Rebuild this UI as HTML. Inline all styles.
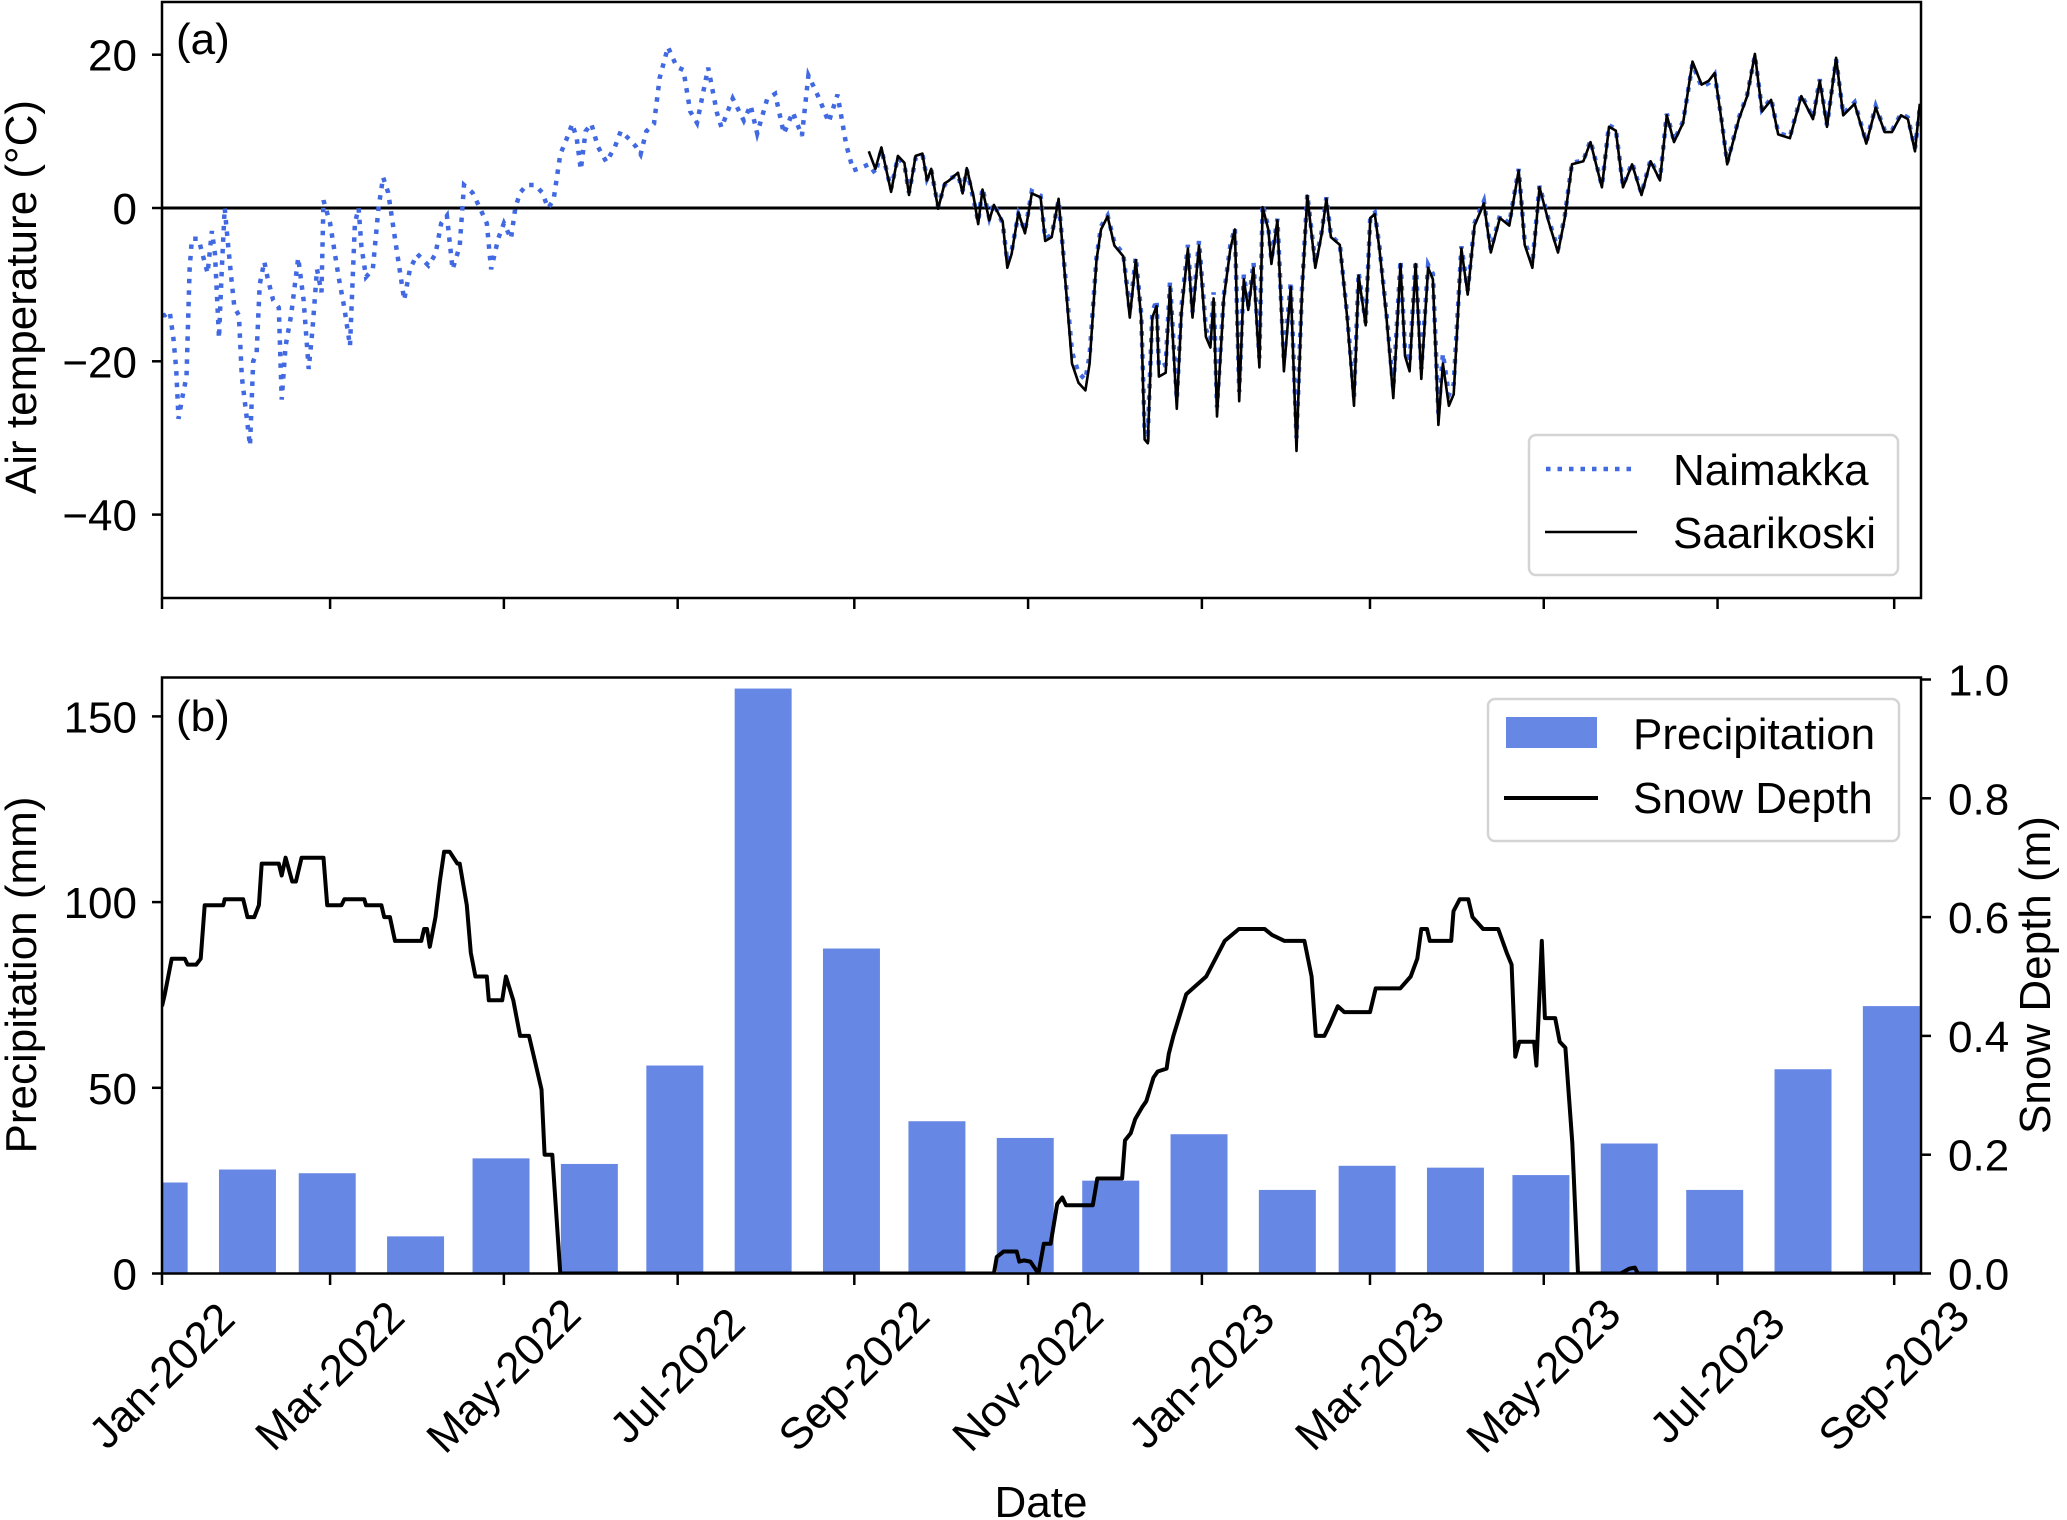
<!DOCTYPE html>
<html><head><meta charset="utf-8"><style>
html,body{margin:0;padding:0;background:#fff}
svg{display:block;font-family:"Liberation Sans",Arial,sans-serif}
</style></head><body>
<svg id="chart" width="2067" height="1520" viewBox="0 0 2067 1520" xmlns="http://www.w3.org/2000/svg">
<defs>
<clipPath id="clipA"><rect x="162" y="2" width="1759" height="596"/></clipPath>
<clipPath id="clipB"><rect x="162" y="678" width="1759" height="596"/></clipPath>
</defs>
<g id="gA"></g>
<g id="gB"></g>
</svg>
<script>
// ---- data ----
const xTickLabels = ["Jan-2022","Mar-2022","May-2022","Jul-2022","Sep-2022","Nov-2022","Jan-2023","Mar-2023","May-2023","Jul-2023","Sep-2023"];
const xTickDays = [0,59,120,181,243,304,365,424,485,546,608];
const tempTicks = [20,0,-20,-40];
const precipTicks = [0,50,100,150];
const snowTicks = [0.0,0.2,0.4,0.6,0.8,1.0];
// Naimakka air temperature (day offset from 2022-01-01, °C)
const naimDays = [0,1,2.7,4,5,5.8,7,8.6,9.7,10.5,12.8,14.9,16,17.5,18.6,20,21,22,23,24.3,25.4,27,28,29.3,30.9,32,33.2,34.3,35.9,37,39,41,42,43.4,45.3,47.8,49.7,51.5,52.8,54.4,56,56.7,59,62,64,66,67.7,69,70,71.6,74,76,77.6,79.4,81.8,83.4,85,87,89.6,93.5,96,98,100,102,104.5,106,109,111.6,114,115.5,118,120,122.5,124,125.7,128,131,133.5,135.5,137.4,139.8,142,144,145.6,147,148.7,150.7,153,156,159,161,164,166.4,168,170,172.7,174.7,177.6,180.7,183,185.4,187.8,191.7,194.8,196.4,200.3,204.2,206.6,208.9,212.4,215.2,218.3,221.4,224.6,226.9,230.8,234,237.1,240.2,242.6,245,248.1,250.4,252.5,255.9,258.3,260.6,262.2,264.5,266.9,268.5,270,272.4,274.7,276.3,279.4,281,282.5,284.9,286.5,288,290.4,292,295.1,296.7,298.2,300.6,302.9,305.3,308.4,310,312.3,314.7,317.8,319.4,321.7,324.1,325.6,328,329.6,331.9,334.3,337.4,339.7,341.8,343.7,344.9,346,347.6,349.1,349.9,352.3,353.8,356.2,357.8,360.1,361.7,364,366.4,368,369.1,370.3,372.7,375,376.6,378.1,379.7,381.3,383.1,385.2,386.3,388.3,389.4,391.5,393.8,396.2,398.2,400.1,402,404.8,407.1,408.7,410.3,413.4,416,418.4,420,422.5,424.1,425.7,427.3,429.8,432.2,434.7,436.3,437.9,440,442,444.4,446.1,448,449.6,451.7,453.4,456.1,458.3,460.7,464,466.4,469.6,472.9,476.2,478.3,481,483.5,486.7,490,492.4,494.9,498.9,501.4,505.4,507.9,510.3,512.8,516,519.3,522.5,525.8,528.2,530.7,533.9,537.2,540.4,542.9,545,547.3,549.4,553.5,556.4,559.1,561.6,564.8,567.3,571.4,575.4,579.5,581.9,584.4,587.6,590.1,594.1,598.2,601.5,604.7,607.2,610.4,612.8,615.3,617];
const naimVals = [-14,-14,-13.5,-17,-21,-27.5,-25,-22,-8,-4,-4,-7,-8.5,-3,-6,-17,-8,0,-4,-9,-13,-14,-22,-26,-31,-20,-19,-10,-7,-9,-12,-13,-25,-18,-14,-6.5,-12,-21,-16,-8,-11,1,-2,-9,-13,-18,-2,0,-5,-9,-8,0,4,2,-4,-8,-12,-8,-6,-7.5,-6,-2,-1,-8,-5,3,2,0,-2,-8,-4,-2,-4,0,2,3,3,2,0,1,7,9,11,9,5,10,11,8,6,8,10,9,8,7,10,11,17,21,18.4,18,12.6,11.1,18.3,12.4,10.5,14.3,11.4,13.4,9.7,14.2,14.9,9.7,12.5,9.4,17.3,14.2,11.2,14.8,8.2,4.9,5.2,5.7,4.5,7.6,2.5,6.6,5.6,2.0,6.5,7.0,3.8,5.0,0.2,3.0,3.8,4.3,2.2,5.0,1.0,-1.8,2.6,-1.3,0.6,-2.0,-7.0,-5.6,-0.8,-3.0,2.2,1.6,-4.0,-3.5,1.0,-12.0,-18.8,-21.5,-22.4,-19.2,-6.5,-2.4,-1.0,-4.5,-6.0,-13.5,-6.4,-13.8,-28.7,-29.5,-13.6,-12.0,-20.8,-20.4,-9.6,-25.0,-13.0,-4.8,-13.6,-4.3,-15.8,-17.2,-11.0,-26.0,-11.4,-4.8,-2.6,-24.0,-8.7,-12.8,-7.1,-19.6,0.5,-2.5,-6.8,-1.4,-20.0,-9.6,-30.0,-10.8,1.8,-7.2,-3.0,1.4,-3.6,-4.7,-14.0,-24.6,-8.4,-15.0,-1.0,-0.6,-5.0,-13.8,-23.6,-6.8,-18.6,-20.2,-6.8,-21.0,-7.4,-8.6,-26.8,-19.0,-24.4,-23.0,-5.0,-10.8,-2.0,0.9,-5.4,-1.0,-2.0,5.1,-4.4,-7.2,2.9,-1.5,-5.4,-1.0,5.9,6.2,8.8,2.9,10.8,10.3,2.9,5.9,1.9,6.3,3.8,12.3,8.8,11.3,18.8,15.8,16.3,17.4,11.8,5.9,11.8,14.8,19.9,12.8,14.3,9.8,9.3,14.8,11.8,16.8,10.8,19.4,12.3,13.8,8.6,13.3,10.1,10.1,12.3,11.8,7.8,13.0,17.6];
// Saarikoski air temperature
const saarDays = [248.1,250.4,252.5,255.9,258.3,260.6,262.2,264.5,266.9,268.5,270,272.4,274.7,276.3,279.4,281,282.5,284.9,286.5,288,290.4,292,295.1,296.7,298.2,300.6,302.9,305.3,308.4,310,312.3,314.7,317.8,319.4,321.7,324.1,325.6,328,329.6,331.9,334.3,337.4,339.7,341.8,343.7,344.9,346,347.6,349.1,349.9,352.3,353.8,356.2,357.8,360.1,361.7,364,366.4,368,369.1,370.3,372.7,375,376.6,378.1,379.7,381.3,383.1,385.2,386.3,388.3,389.4,391.5,393.8,396.2,398.2,400.1,402,404.8,407.1,408.7,410.3,413.4,416,418.4,420,422.5,424.1,425.7,427.3,429.8,432.2,434.7,436.3,437.9,440,442,444.4,446.1,448,449.6,451.7,453.4,456.1,458.3,460.7,464,466.4,469.6,472.9,476.2,478.3,481,483.5,486.7,490,492.4,494.9,498.9,501.4,505.4,507.9,510.3,512.8,516,519.3,522.5,525.8,528.2,530.7,533.9,537.2,540.4,542.9,545,547.3,549.4,553.5,556.4,559.1,561.6,564.8,567.3,571.4,575.4,579.5,581.9,584.4,587.6,590.1,594.1,598.2,601.5,604.7,607.2,610.4,612.8,615.3,617];
const saarVals = [7.4,5.1,7.9,2.1,6.8,5.9,1.7,6.8,7.1,3.6,5.1,-0.1,3.2,3.6,4.6,1.9,5.2,1.4,-2.1,2.4,-1.6,0.4,-1.8,-7.8,-6,-0.6,-3.3,1.9,1.4,-4.3,-3.8,1.2,-12.8,-20.3,-22.8,-23.8,-20.3,-6.8,-2.8,-1.1,-4.9,-6.3,-14.3,-6.8,-14.3,-30.2,-30.7,-14.3,-12.8,-22,-21.5,-10.3,-26.2,-13.8,-5.3,-14.3,-4.9,-16.8,-18.2,-11.8,-27.2,-11.8,-5.3,-2.8,-25.2,-9.3,-13.3,-7.8,-20.8,0.1,-2.8,-7.3,-1.6,-21.3,-10.3,-31.7,-11.3,1.6,-7.8,-3.3,1.2,-3.8,-4.8,-14.3,-25.8,-8.8,-15.3,-1.3,-0.8,-5.3,-14.3,-24.8,-7.3,-19.3,-21.3,-7.3,-22.3,-7.8,-9.3,-28.3,-20.3,-25.8,-24.3,-5.3,-11.3,-2.3,0.6,-5.8,-1.3,-2.3,4.9,-4.8,-7.8,2.7,-1.8,-5.8,-1.3,5.7,6.1,8.6,2.7,10.6,10.1,2.7,5.7,1.7,6.1,3.6,12.1,8.6,11.1,19.1,16.1,16.6,17.6,11.6,5.7,11.6,14.6,20.1,12.6,14.1,9.6,9.1,14.6,11.6,16.6,10.6,19.6,12.1,13.6,8.4,13.1,9.9,9.9,12.1,11.6,7.4,13.6,16.6];
// Monthly precipitation (mm), bars at month-end
const precipMonths = ["Dec-2021","Jan-2022","Feb-2022","Mar-2022","Apr-2022","May-2022","Jun-2022","Jul-2022","Aug-2022","Sep-2022","Oct-2022","Nov-2022","Dec-2022","Jan-2023","Feb-2023","Mar-2023","Apr-2023","May-2023","Jun-2023","Jul-2023","Aug-2023"];
const precipDays = [-1,30,58,89,119,150,180,211,242,272,303,333,364,395,423,454,484,515,545,576,607];
const precipVals = [24.5,28,27,10,31,29.5,56,157.5,87.5,41,36.5,25,37.5,22.5,29,28.5,26.5,35,22.5,55,72];
// Snow depth (m)
const snowDays = [0,1,3.4,8,9,12,13.6,15,21.5,22,28.5,30,32.4,34,35,41,42,43.4,45.7,47,49,56.7,58,63,64,71,71.6,77,78,80,81.8,91,92,93,94,96,97.5,99,101,103.7,104.5,107,108.4,110,114,114.7,119.4,120.7,123.3,125.7,128.8,130.8,133.2,134.3,137,139.8,292,293,295.4,300,300.9,302.5,304.8,307.6,309.5,311.9,314.2,316,317.3,326.7,328.3,337,338,340,341.6,344,345.5,348,349.5,352.6,353.4,355,359.5,366.5,373,378,387,389.6,394,401,403.5,405,408,410,412.7,415,424,426,429,434.6,438.3,440.6,442,444,445,452.5,453.3,455.5,458.5,460,463.7,469,472,473.7,475,476.4,481.6,482.4,484.3,485.4,489,490.6,492.6,495,497,512,515,517,518,620];
const snowVals = [0.45,0.47,0.53,0.53,0.52,0.52,0.53,0.62,0.62,0.63,0.63,0.60,0.60,0.62,0.69,0.69,0.67,0.70,0.66,0.66,0.70,0.70,0.62,0.62,0.63,0.63,0.62,0.62,0.60,0.60,0.56,0.56,0.58,0.58,0.55,0.60,0.66,0.71,0.71,0.69,0.69,0.62,0.54,0.50,0.50,0.46,0.46,0.50,0.46,0.40,0.40,0.36,0.31,0.20,0.20,0,0,0.028,0.037,0.037,0.02,0.022,0.02,0,0.05,0.05,0.117,0.128,0.115,0.115,0.16,0.16,0.224,0.236,0.26,0.28,0.29,0.33,0.34,0.345,0.37,0.40,0.47,0.50,0.56,0.58,0.58,0.57,0.56,0.56,0.50,0.40,0.40,0.42,0.45,0.44,0.44,0.48,0.48,0.48,0.50,0.53,0.58,0.58,0.56,0.56,0.61,0.63,0.63,0.60,0.58,0.58,0.54,0.52,0.365,0.39,0.39,0.35,0.56,0.43,0.43,0.39,0.38,0.22,0,0,0.008,0.01,0,0];

// ---- axes ----
const X0=162, PXD=2.849, FS=44;
const xs = d => X0 + d*PXD;
const yA = v => 208 - v*7.665;
const yP = v => 1273.5 - v*3.714;
const yS = v => 1273.5 - v*594;
const NS="http://www.w3.org/2000/svg";
function mk(tag, attrs, parent, txt){const e=document.createElementNS(NS,tag);for(const k in attrs)e.setAttribute(k,attrs[k]);if(txt!==undefined)e.textContent=txt;parent.appendChild(e);return e;}
const gA=document.getElementById('gA'), gB=document.getElementById('gB');

// panel a series
const sa=mk('g',{'clip-path':'url(#clipA)'},gA);


const z=mk('line',{x1:162,x2:1921,y1:yA(0),y2:yA(0),stroke:'#000','stroke-width':3},sa);


let p=naimDays.map((d,i)=>(i?'L':'M')+xs(d).toFixed(1)+','+yA(naimVals[i]).toFixed(1)).join('');
const nl=mk('path',{d:p,fill:'none',stroke:'#4169e1','stroke-width':4.5,'stroke-dasharray':'4.5 7'},sa);


p=saarDays.map((d,i)=>(i?'L':'M')+xs(d).toFixed(1)+','+yA(saarVals[i]).toFixed(1)).join('');
const sl=mk('path',{d:p,fill:'none',stroke:'#000','stroke-width':2.6,'stroke-linejoin':'round'},sa);


mk('rect',{x:162,y:2,width:1759,height:596,fill:'none',stroke:'#000','stroke-width':2.5},gA);
tempTicks.forEach(t=>{
  const y=yA(t);
  mk('line',{x1:152,x2:162,y1:y,y2:y,stroke:'#000','stroke-width':2.5},gA);
  const tl=mk('text',{x:137,y:y+16,'text-anchor':'end','font-size':FS},gA,String(t).replace('-','\u2212'));
  
  
});
xTickDays.forEach(d=>{mk('line',{x1:xs(d),x2:xs(d),y1:598,y2:609,stroke:'#000','stroke-width':2.5},gA);});
let t=mk('text',{x:176,y:54,'font-size':FS},gA,'(a)');


t=mk('text',{x:0,y:0,'font-size':FS,'text-anchor':'middle',transform:'translate(36,297) rotate(-90)'},gA,'Air temperature (°C)');


// legend a
const la=mk('g',{},gA);


mk('rect',{x:1529,y:435,width:369,height:140,rx:7,fill:'#fff','fill-opacity':0.8,stroke:'#d4d4d4','stroke-width':2.5},la);
mk('line',{x1:1546,x2:1637,y1:469,y2:469,stroke:'#4169e1','stroke-width':4.5,'stroke-dasharray':'4.5 7'},la);
mk('text',{x:1673,y:485,'font-size':FS},la,'Naimakka');
mk('line',{x1:1545,x2:1637,y1:532,y2:532,stroke:'#000','stroke-width':2.6},la);
mk('text',{x:1673,y:548,'font-size':FS},la,'Saarikoski');

// panel b
const sb=mk('g',{'clip-path':'url(#clipB)'},gB);
precipDays.forEach((d,i)=>{
  const b=mk('rect',{x:xs(d-10),y:yP(precipVals[i]),width:20*PXD,height:yP(0)-yP(precipVals[i]),fill:'#6787e5'},sb);
  
  
});
p=snowDays.map((d,i)=>(i?'L':'M')+xs(d).toFixed(1)+','+yS(snowVals[i]).toFixed(1)).join('');
const snl=mk('path',{d:p,fill:'none',stroke:'#000','stroke-width':4,'stroke-linejoin':'round'},sb);


mk('rect',{x:162,y:677.5,width:1759,height:596,fill:'none',stroke:'#000','stroke-width':2.5},gB);
precipTicks.forEach(v=>{
  const y=yP(v);
  mk('line',{x1:152,x2:162,y1:y,y2:y,stroke:'#000','stroke-width':2.5},gB);
  const tl=mk('text',{x:137,y:y+16,'text-anchor':'end','font-size':FS},gB,String(v));
  
  
});
snowTicks.forEach(v=>{
  const y=yS(v);
  mk('line',{x1:1921,x2:1931,y1:y,y2:y,stroke:'#000','stroke-width':2.5},gB);
  const tl=mk('text',{x:1948,y:y+16,'font-size':FS},gB,v.toFixed(1));
  
  
});
xTickDays.forEach((d,i)=>{
  const x=xs(d);
  mk('line',{x1:x,x2:x,y1:1273.5,y2:1285,stroke:'#000','stroke-width':2.5},gB);
  const tl=mk('text',{x:0,y:0,'font-size':FS,'text-anchor':'middle','dominant-baseline':'central',transform:`translate(${x},1376) rotate(-45)`},gB,xTickLabels[i]);
  
  
});
t=mk('text',{x:176,y:731,'font-size':FS},gB,'(b)');


t=mk('text',{x:0,y:0,'font-size':FS,'text-anchor':'middle',transform:'translate(36,975) rotate(-90)'},gB,'Precipitation (mm)');


t=mk('text',{x:0,y:0,'font-size':FS,'text-anchor':'middle',transform:'translate(2050,975) rotate(-90)'},gB,'Snow Depth (m)');


t=mk('text',{x:1041,y:1517,'font-size':FS,'text-anchor':'middle'},gB,'Date');


const lb=mk('g',{},gB);


mk('rect',{x:1488,y:699,width:411,height:142,rx:7,fill:'#fff','fill-opacity':0.8,stroke:'#d4d4d4','stroke-width':2.5},lb);
mk('rect',{x:1506,y:717,width:91,height:31,fill:'#6787e5'},lb);
mk('text',{x:1633,y:749,'font-size':FS},lb,'Precipitation');
mk('line',{x1:1504,x2:1598,y1:798,y2:798,stroke:'#000','stroke-width':4},lb);
mk('text',{x:1633,y:813,'font-size':FS},lb,'Snow Depth');
</script>
</body></html>
